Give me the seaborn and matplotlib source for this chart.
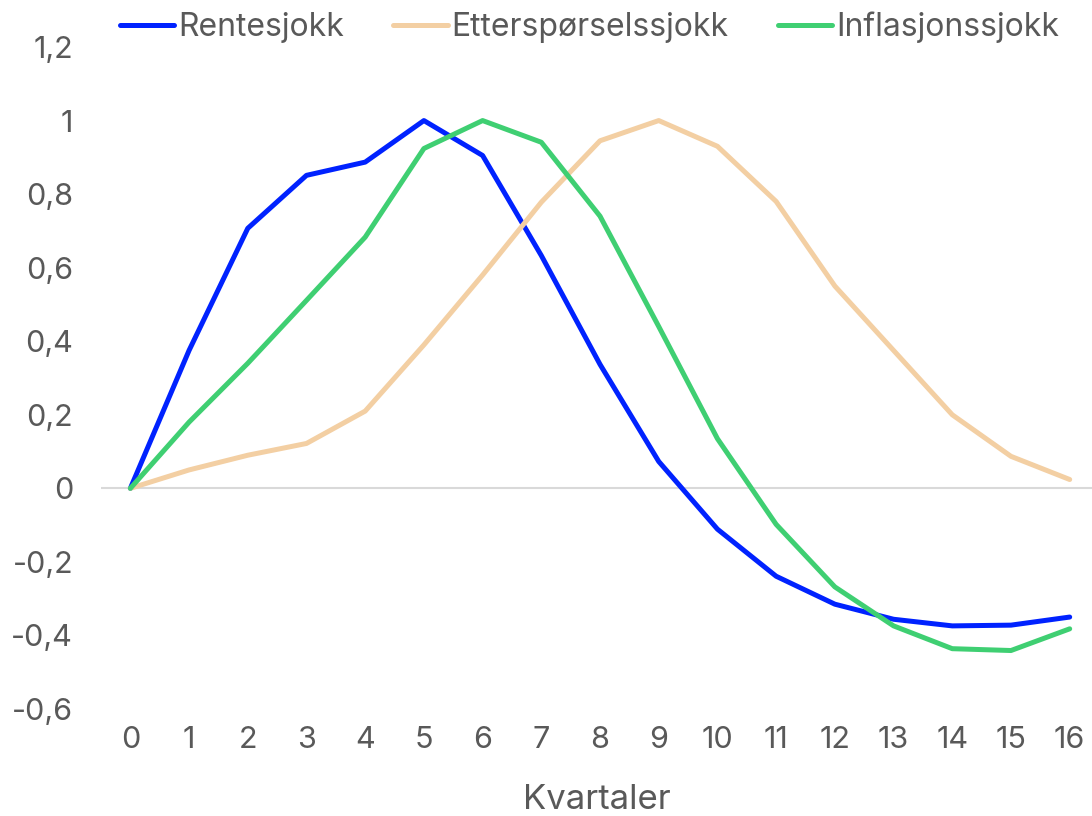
import numpy as np
import pandas as pd
import matplotlib
matplotlib.use("Agg")
import matplotlib.pyplot as plt
import seaborn as sns
from matplotlib.ticker import FuncFormatter

kvartaler = list(range(17))

rentesjokk = [0, 0.375, 0.707, 0.851, 0.887, 1.0, 0.905, 0.633, 0.337, 0.073,
              -0.111, -0.239, -0.315, -0.356, -0.374, -0.372, -0.35]
ettersporsel = [0, 0.05, 0.09, 0.122, 0.21, 0.39, 0.58, 0.778, 0.945, 1.0,
                0.93, 0.78, 0.55, 0.375, 0.20, 0.087, 0.024]
inflasjon = [0, 0.18, 0.34, 0.511, 0.683, 0.924, 1.0, 0.941, 0.74, 0.44,
             0.135, -0.098, -0.268, -0.374, -0.436, -0.441, -0.382]

series_names = ["Rentesjokk", "Etterspørselssjokk", "Inflasjonssjokk"]
colors = ["#0022ff", "#f3cfa3", "#3fcf72"]

df = pd.DataFrame({
    "Kvartaler": kvartaler * 3,
    "verdi": rentesjokk + ettersporsel + inflasjon,
    "serie": [series_names[0]] * 17 + [series_names[1]] * 17 + [series_names[2]] * 17,
})


def komma(v, pos):
    if abs(v) < 1e-9:
        return "0"
    s = f"{v:.1f}".rstrip("0").rstrip(".")
    return s.replace(".", ",")


sns.set_theme(style="white")
plt.rcParams["font.family"] = ["Inter", "DejaVu Sans"]
text_color = "#595959"

fig = plt.figure(figsize=(10.92, 8.16), dpi=100)
ax = fig.add_axes([101 / 1092, 107 / 816, 991 / 1092, 662 / 816])

sns.lineplot(
    data=df, x="Kvartaler", y="verdi", hue="serie",
    palette=dict(zip(series_names, colors)),
    linewidth=3.6, ax=ax, legend=False,
)

ax.axhline(0, color="#d9d9d9", linewidth=1.5, zorder=0)

ax.set_xlim(-0.5, 16.38)
ax.set_ylim(-0.6, 1.2)
ax.set_xticks(kvartaler)
ax.set_yticks(np.arange(-0.6, 1.21, 0.2))
ax.yaxis.set_major_formatter(FuncFormatter(komma))
ax.tick_params(axis="both", length=0, labelsize=22, labelcolor=text_color)
ax.tick_params(axis="y", pad=20)
ax.tick_params(axis="x", pad=12)
ax.set_xlabel("Kvartaler", fontsize=25, color=text_color, labelpad=22)
ax.set_ylabel("")
for s in ax.spines.values():
    s.set_visible(False)

handles = [plt.Line2D([], [], color=c, linewidth=3.6, solid_capstyle="round") for c in colors]
fig.legend(
    handles, series_names, loc="upper left", bbox_to_anchor=(91 / 1092, 1.021),
    ncol=3, frameon=False, fontsize=23, labelcolor=text_color,
    handlelength=1.7, handletextpad=0.12, columnspacing=1.55,
)

fig.savefig("out.png", dpi=100)
